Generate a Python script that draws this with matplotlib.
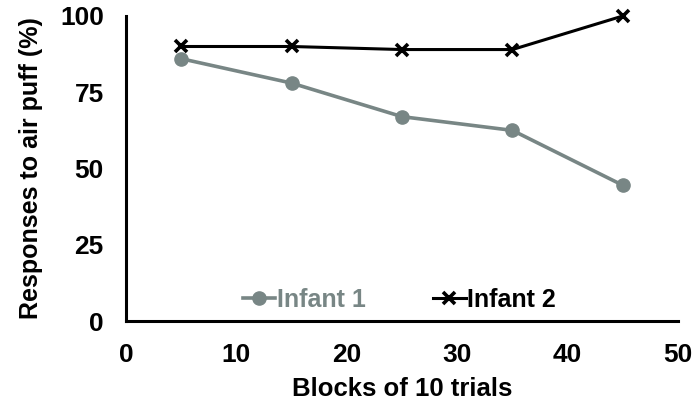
import matplotlib
matplotlib.use("Agg")
import matplotlib.pyplot as plt

plt.rcParams['font.family'] = ['Liberation Sans', 'DejaVu Sans']
plt.rcParams['font.weight'] = 'bold'

blocks = [5, 15, 25, 35, 45]
infant1 = [86, 78, 67, 62.5, 44.5]
infant2 = [90, 90, 89, 89, 100]
gray = '#788685'

fig = plt.figure(figsize=(7, 4.08), dpi=100)
ax = fig.add_axes([0.18, 0.2132, 0.7886, 0.7476])

ax.plot(blocks, infant1, color=gray, lw=2.6, marker='o', ms=9.5, label='Infant 1', clip_on=False)
ax.plot(blocks, infant2, color='black', lw=2.2, marker='x', ms=9, mew=2.6, label='Infant 2', clip_on=False)

ax.set_xlim(0, 50)
ax.set_ylim(0, 100)
ax.set_xticks(range(0, 51, 10))
ax.set_yticks([0, 25, 50, 75, 100])
ax.tick_params(axis='y', length=0, labelsize=19, pad=16)
ax.tick_params(axis='x', length=0, labelsize=19, pad=16)
for lab in ax.get_xticklabels() + ax.get_yticklabels():
    lab.set_fontweight('bold')
for s in ['top', 'right']:
    ax.spines[s].set_visible(False)
for s in ['left', 'bottom']:
    ax.spines[s].set_linewidth(2.2)
ax.set_xlabel('Blocks of 10 trials', fontsize=18.5, fontweight='bold', labelpad=7)
ax.set_ylabel('Responses to air puff (%)', fontsize=18, fontweight='bold', labelpad=12)

leg = ax.legend(loc='center', bbox_to_anchor=(0.495, 0.07), ncol=2, frameon=False,
                handlelength=1.3, handletextpad=0.05, columnspacing=2.7,
                prop={'weight': 'bold', 'size': 18})
for txt, c in zip(leg.get_texts(), [gray, 'black']):
    txt.set_color(c)

fig.savefig('out.png', dpi=100)
